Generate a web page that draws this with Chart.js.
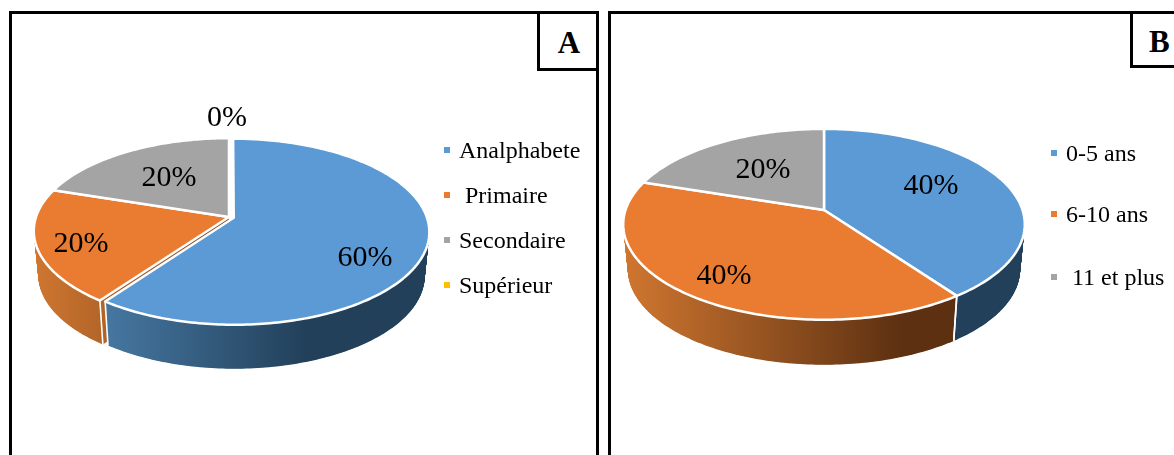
<!DOCTYPE html>
<html lang="fr">
  <head>
    <meta charset="UTF-8" />
    <title>Répartition A et B</title>
    <script src="https://cdn.jsdelivr.net/npm/chart.js"></script>
    <style>
      body { margin: 0; background: #fff; overflow: hidden; width: 1174px; height: 455px; position: relative; }
      canvas { position: absolute; left: 0; top: 0; }
      .panel, .tag { position: absolute; box-sizing: border-box; border: 3px solid #000; background: #fff; }
      .panel { top: 11px; height: 470px; }
      .tag { font: bold 31px "Liberation Serif", serif; text-align: center; }
    </style>
  </head>
  <body>
    <div class="panel" style="left: 9px; width: 590px"></div>
    <div class="panel" style="left: 608px; width: 620px"></div>
    <div class="tag" style="left: 537px; top: 11px; width: 62px; height: 60px; line-height: 58px; padding-left: 2px">A</div>
    <div class="tag" style="left: 1130px; top: 11px; width: 80px; height: 57px; line-height: 55px; text-align: left; padding-left: 16px">B</div>
    <canvas id="pieA" width="1174" height="455"></canvas>
    <canvas id="pieB" width="1174" height="455"></canvas>

    <script>
      // values
      const labelsA = ["Analphabete", " Primaire", "Secondaire", "Supérieur"];
      const valuesA = [60, 20, 20, 0];
      const labelsB = ["0-5 ans", "6-10 ans", " 11 et plus"];
      const valuesB = [40, 40, 20];

      const TEXT_FONT = '"Liberation Serif", serif';
      const TILT = 0.47; // vertical squash of the disc
      const PERSP = 0.15; // moves the apex above the centre of the ellipse
      const BOTTOM_SCALE = 0.977; // lower edge of the disc looks a bit narrower

      const topColors = ["#5b9ad5", "#ea7c31", "#a4a4a4", "#ffc000"];
      const sideLight = ["#528ab9", "#cf7630", "#8a8a8a", "#c09000"];
      const sideDark = ["#22405a", "#5c3011", "#555555", "#705400"];

      function project(arc, angle, r, midAngle) {
        const d = (arc.options.offset || 0) / 4 / arc.outerRadius;
        const u = Math.cos(angle) * r + Math.cos(midAngle) * d;
        const v = Math.sin(angle) * r + Math.sin(midAngle) * d;
        const w = 1 - PERSP * v;
        return {
          x: arc.x + (arc.outerRadius * u) / w,
          y: arc.y + (TILT * arc.outerRadius * v) / w,
        };
      }

      function slicePoints(arc) {
        const mid = (arc.startAngle + arc.endAngle) / 2;
        const steps = Math.ceil(((arc.endAngle - arc.startAngle) * 180) / Math.PI);
        const pts = [project(arc, 0, 0, mid)];
        for (let i = 0; i <= steps; i++) {
          const a = arc.startAngle + ((arc.endAngle - arc.startAngle) * i) / steps;
          pts.push(project(arc, a, 1, mid));
        }
        return pts;
      }

      function fillPoly(ctx, pts, style) {
        ctx.beginPath();
        pts.forEach((p, i) => (i ? ctx.lineTo(p.x, p.y) : ctx.moveTo(p.x, p.y)));
        ctx.closePath();
        ctx.fillStyle = style;
        ctx.fill();
      }

      // t goes from 0 at the top face to 1 at the lower edge
      function lower(arc, pts, depth, t) {
        const s = 1 - (1 - BOTTOM_SCALE) * t;
        return pts.map((p) => ({
          x: arc.x + (p.x - arc.x) * s,
          y: p.y + depth * t,
        }));
      }

      // the library works out the angles, this plugin only draws them as a 3D disc
      const pie3d = {
        id: "pie3d",
        beforeDatasetsDraw(chart, args, opts) {
          const ctx = chart.ctx;
          const meta = chart.getDatasetMeta(0);
          const arcs = meta.data.filter((a) => a.circumference > 0);
          const depth = opts.depth;
          const sideFills = arcs.map((arc) => {
            const i = meta.data.indexOf(arc);
            const g = ctx.createLinearGradient(arc.x - arc.outerRadius, 0, arc.x + arc.outerRadius, 0);
            g.addColorStop(0, sideLight[i]);
            g.addColorStop(0.7, sideDark[i]);
            g.addColorStop(1, sideDark[i]);
            return g;
          });
          const shapes = arcs.map(slicePoints);

          ctx.save();
          ctx.lineJoin = "round";

          // stack the slices from the lower edge upwards to get the side wall
          for (let step = depth * 2; step > 0; step--) {
            arcs.forEach((arc, i) => {
              fillPoly(ctx, lower(arc, shapes[i], depth, step / (depth * 2)), sideFills[i]);
            });
          }

          // white seams where two slices meet on the front side
          ctx.strokeStyle = "#fff";
          ctx.lineWidth = 1.6;
          arcs.forEach((arc) => {
            const mid = (arc.startAngle + arc.endAngle) / 2;
            [arc.startAngle, arc.endAngle].forEach((a) => {
              if (Math.sin(a) <= 0) return;
              const p = project(arc, a, 1, mid);
              const q = lower(arc, [p], depth, 1)[0];
              ctx.beginPath();
              ctx.moveTo(p.x, p.y);
              ctx.lineTo(q.x, q.y);
              ctx.stroke();
            });
          });

          // top faces
          arcs.forEach((arc, i) => {
            fillPoly(ctx, shapes[i], arc.options.backgroundColor);
            ctx.strokeStyle = arc.options.borderColor;
            ctx.lineWidth = arc.options.borderWidth;
            ctx.stroke();
          });

          ctx.restore();
          return false;
        },
        afterDraw(chart, args, opts) {
          const ctx = chart.ctx;
          const data = chart.data.datasets[0];
          ctx.save();
          ctx.fillStyle = "#000";

          ctx.font = "30px " + TEXT_FONT;
          ctx.textAlign = "center";
          ctx.textBaseline = "middle";
          data.data.forEach((v, i) => {
            ctx.fillText(v + "%", opts.percentX[i], opts.percentY[i]);
          });

          ctx.font = "24px " + TEXT_FONT;
          ctx.textAlign = "left";
          ctx.textBaseline = "alphabetic";
          chart.data.labels.forEach((label, i) => {
            const y = opts.legendY[i];
            ctx.fillStyle = topColors[i];
            ctx.fillRect(opts.legendX, y - 3, 6, 6);
            ctx.fillStyle = "#000";
            ctx.fillText(label, opts.legendX + 15, y + 8);
          });
          ctx.restore();
        },
      };

      function drawPie(id, labels, values, place) {
        new Chart(document.getElementById(id), {
          type: "pie",
          data: {
            labels: labels,
            datasets: [
              {
                data: values,
                backgroundColor: topColors.slice(0, values.length),
                borderColor: "#fff",
                borderWidth: 2.5,
                offset: place.offset,
              },
            ],
          },
          options: {
            responsive: false,
            animation: false,
            events: [],
            radius: place.radius,
            layout: {
              padding: {
                left: place.cx - 100,
                right: 1174 - place.cx - 100,
                top: place.cy - 100,
                bottom: 455 - place.cy - 100,
              },
            },
            plugins: {
              legend: { display: false },
              tooltip: { enabled: false },
              pie3d: place,
            },
          },
          plugins: [pie3d],
        });
      }

      drawPie("pieA", labelsA, valuesA, {
        cx: 229,
        cy: 217,
        radius: 193,
        depth: 44,
        offset: [20, 0, 0, 0],
        percentX: [365, 81, 169, 227],
        percentY: [258, 244, 178, 118],
        legendX: 444,
        legendY: [150, 195, 240, 285],
      });

      drawPie("pieB", labelsB, valuesB, {
        cx: 824,
        cy: 210,
        radius: 198.5,
        depth: 45,
        offset: [0, 0, 0],
        percentX: [931, 724, 763],
        percentY: [186, 276, 170],
        legendX: 1051,
        legendY: [153, 214, 277],
      });
    </script>
  </body>
</html>
